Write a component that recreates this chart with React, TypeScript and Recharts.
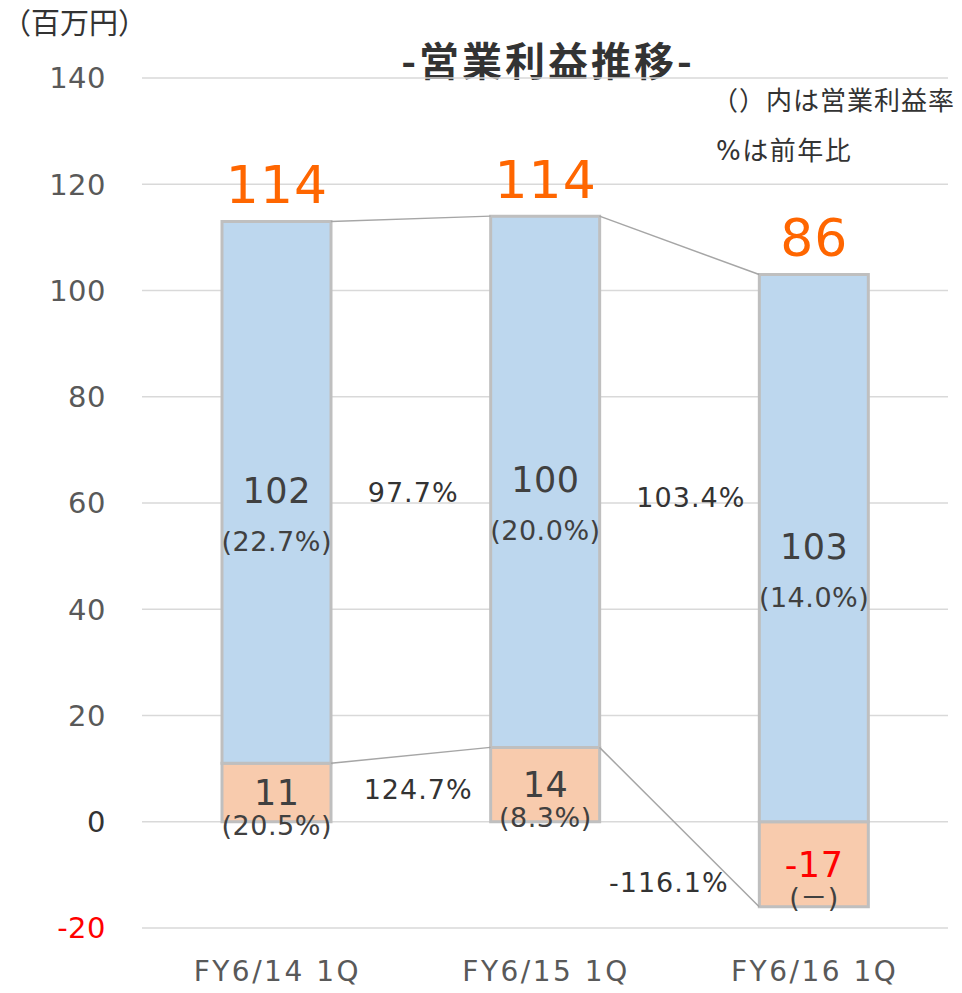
import {
  BarChart,
  Bar,
  XAxis,
  YAxis,
  CartesianGrid,
  LabelList,
  ReferenceLine,
} from "recharts";

const CATEGORIES = ["FY6/14 1Q", "FY6/15 1Q", "FY6/16 1Q"];
const BASE_PROFIT = [11, 14, -16];
const MAIN_PROFIT = [102, 100, 103];
const BASE_LABELS = ["11", "14", "-17"];
const MAIN_LABELS = ["102", "100", "103"];
const BASE_RATES = ["(20.5%)", "(8.3%)", "(－)"];
const MAIN_RATES = ["(22.7%)", "(20.0%)", "(14.0%)"];
const TOTALS = ["114", "114", "86"];
const MAIN_YOY = ["97.7%", "103.4%"];
const BASE_YOY = ["124.7%", "-116.1%"];
const Y_TICKS = [-20, 0, 20, 40, 60, 80, 100, 120, 140];

// where the yoy texts sit between the bars (value height, x nudge)
const MAIN_YOY_POS = [
  { y: 62, dx: 2 },
  { y: 61, dx: 11 },
];
const BASE_YOY_POS = [
  { y: 6.2, dx: 7 },
  { y: -11.3, dx: -11 },
];

const BAR_SIZE = 109;
const FONT = '"DejaVu Sans", "Noto Sans CJK JP", sans-serif';
const JP_FONT = '"Noto Sans CJK JP", sans-serif';
const TEXT = "#404040";

const data = CATEGORIES.map((name, i) => ({
  name,
  base: BASE_PROFIT[i],
  main: MAIN_PROFIT[i],
  baseLabel: BASE_LABELS[i],
  mainLabel: MAIN_LABELS[i],
  baseRate: BASE_RATES[i],
  mainRate: MAIN_RATES[i],
  total: TOTALS[i],
}));

const mainTops = CATEGORIES.map((_, i) => Math.max(BASE_PROFIT[i], 0) + MAIN_PROFIT[i]);

function Connector(props: any) {
  const { x1, y1, x2, y2 } = props;
  return (
    <line
      x1={x1 + BAR_SIZE / 2}
      y1={y1}
      x2={x2 - BAR_SIZE / 2}
      y2={y2}
      stroke="#a6a6a6"
      strokeWidth={1.5}
    />
  );
}

function YTick({ x, y, payload }: any) {
  const v = payload.value;
  return (
    <text
      x={x}
      y={y}
      dy="0.36em"
      textAnchor="end"
      fontSize={29}
      letterSpacing={0.5}
      fontFamily={FONT}
      fill={v < 0 ? "#ff0000" : v === 0 ? "#333333" : "#595959"}
    >
      {v}
    </text>
  );
}

function XTick({ x, y, payload }: any) {
  return (
    <text
      x={x + 1}
      y={y}
      dy="0.71em"
      textAnchor="middle"
      fontSize={28}
      letterSpacing={2.5}
      fontFamily={FONT}
      fill="#595959"
    >
      {payload.value}
    </text>
  );
}

const centerText =
  (size: number, spacing: number, shift: number, color: (v: string) => string) =>
  (props: any) => {
    const { x, y, width, height, value } = props;
    return (
      <text
        x={x + width / 2 + spacing / 2}
        y={y + height / 2 + shift}
        dy="0.36em"
        textAnchor="middle"
        fontSize={size}
        letterSpacing={spacing}
        fontFamily={FONT}
        fill={color(String(value))}
      >
        {value}
      </text>
    );
  };

function TotalLabel(props: any) {
  const { x, y, width, value } = props;
  return (
    <text
      x={x + width / 2 + 0.5}
      y={y - 37}
      dy="0.36em"
      textAnchor="middle"
      fontSize={52}
      letterSpacing={1}
      fontFamily={FONT}
      fill="#ff6600"
    >
      {value}
    </text>
  );
}

function YoyText(props: any) {
  const { viewBox, value, dx } = props;
  const cx = viewBox.x + viewBox.width / 2 + dx;
  const cy = viewBox.y + viewBox.height / 2;
  return (
    <text
      x={cx + 0.5}
      y={cy}
      dy="0.36em"
      textAnchor="middle"
      fontSize={27}
      letterSpacing={1}
      fontFamily={FONT}
      fill="#333333"
    >
      {value}
    </text>
  );
}

export default function App() {
  return (
    <div style={{ position: "absolute", left: 0, top: 0, width: 962, height: 993, fontFamily: FONT, background: "#fff" }}>
      <div style={{ position: "absolute", left: 2, top: 3, fontSize: 29, color: "#333", fontFamily: JP_FONT, lineHeight: "36px" }}>
        （百万円）
      </div>
      <div
        style={{
          position: "absolute",
          left: 0,
          width: 1096,
          top: 35,
          textAlign: "center",
          fontSize: 40,
          letterSpacing: 3,
          fontWeight: "bold",
          color: "#333",
          lineHeight: "48px",
          fontFamily: JP_FONT,
        }}
      >
        -営業利益推移-
      </div>
      <div
        style={{ position: "absolute", left: 712, top: 84, fontSize: 26, letterSpacing: 1, color: "#333", lineHeight: "34px" }}
      >
        （）内は営業利益率
      </div>
      <div
        style={{ position: "absolute", left: 716, top: 134, fontSize: 26, letterSpacing: 1.5, color: "#333", lineHeight: "34px" }}
      >
        %は前年比
      </div>
      <BarChart
        width={962}
        height={993}
        data={data}
        stackOffset="sign"
        margin={{ top: 78, right: 14, bottom: 0, left: 0 }}
        style={{ position: "absolute", left: 0, top: 0 }}
      >
        <CartesianGrid vertical={false} stroke="#d9d9d9" strokeWidth={1.5} />
        <XAxis
          dataKey="name"
          axisLine={false}
          tickLine={false}
          tickSize={0}
          tickMargin={33}
          height={65}
          tick={<XTick />}
          interval={0}
        />
        <YAxis
          domain={[-20, 140]}
          ticks={Y_TICKS}
          axisLine={false}
          tickLine={false}
          tickSize={0}
          tickMargin={36}
          width={142}
          tick={<YTick />}
          interval={0}
        />
        <Bar
          dataKey="base"
          stackId="a"
          barSize={BAR_SIZE}
          fill="#f8cbad"
          stroke="#bfbfbf"
          strokeWidth={3}
          isAnimationActive={false}
        >
          <LabelList
            dataKey="baseLabel"
            content={centerText(35, 0.5, 0, (v) => (v.startsWith("-") ? "#ff0000" : TEXT))}
          />
          <LabelList dataKey="baseRate" content={centerText(27, 0.5, 33, () => TEXT)} />
        </Bar>
        <Bar
          dataKey="main"
          stackId="a"
          barSize={BAR_SIZE}
          fill="#bdd7ee"
          stroke="#bfbfbf"
          strokeWidth={3}
          isAnimationActive={false}
        >
          <LabelList dataKey="mainLabel" content={centerText(35, 0.5, -2, () => TEXT)} />
          <LabelList dataKey="mainRate" content={centerText(27, 0.5, 49, () => TEXT)} />
          <LabelList dataKey="total" content={<TotalLabel />} />
        </Bar>
        {[0, 1].map((i) => (
          <ReferenceLine
            key={`m${i}`}
            segment={[
              { x: CATEGORIES[i], y: mainTops[i] },
              { x: CATEGORIES[i + 1], y: mainTops[i + 1] },
            ]}
            shape={<Connector />}
          />
        ))}
        {[0, 1].map((i) => (
          <ReferenceLine
            key={`b${i}`}
            segment={[
              { x: CATEGORIES[i], y: BASE_PROFIT[i] },
              { x: CATEGORIES[i + 1], y: BASE_PROFIT[i + 1] },
            ]}
            shape={<Connector />}
          />
        ))}
        {MAIN_YOY.map((t, i) => (
          <ReferenceLine
            key={`my${i}`}
            segment={[
              { x: CATEGORIES[i], y: MAIN_YOY_POS[i].y },
              { x: CATEGORIES[i + 1], y: MAIN_YOY_POS[i].y },
            ]}
            stroke="none"
            label={<YoyText value={t} dx={MAIN_YOY_POS[i].dx} />}
          />
        ))}
        {BASE_YOY.map((t, i) => (
          <ReferenceLine
            key={`by${i}`}
            segment={[
              { x: CATEGORIES[i], y: BASE_YOY_POS[i].y },
              { x: CATEGORIES[i + 1], y: BASE_YOY_POS[i].y },
            ]}
            stroke="none"
            label={<YoyText value={t} dx={BASE_YOY_POS[i].dx} />}
          />
        ))}
      </BarChart>
    </div>
  );
}
